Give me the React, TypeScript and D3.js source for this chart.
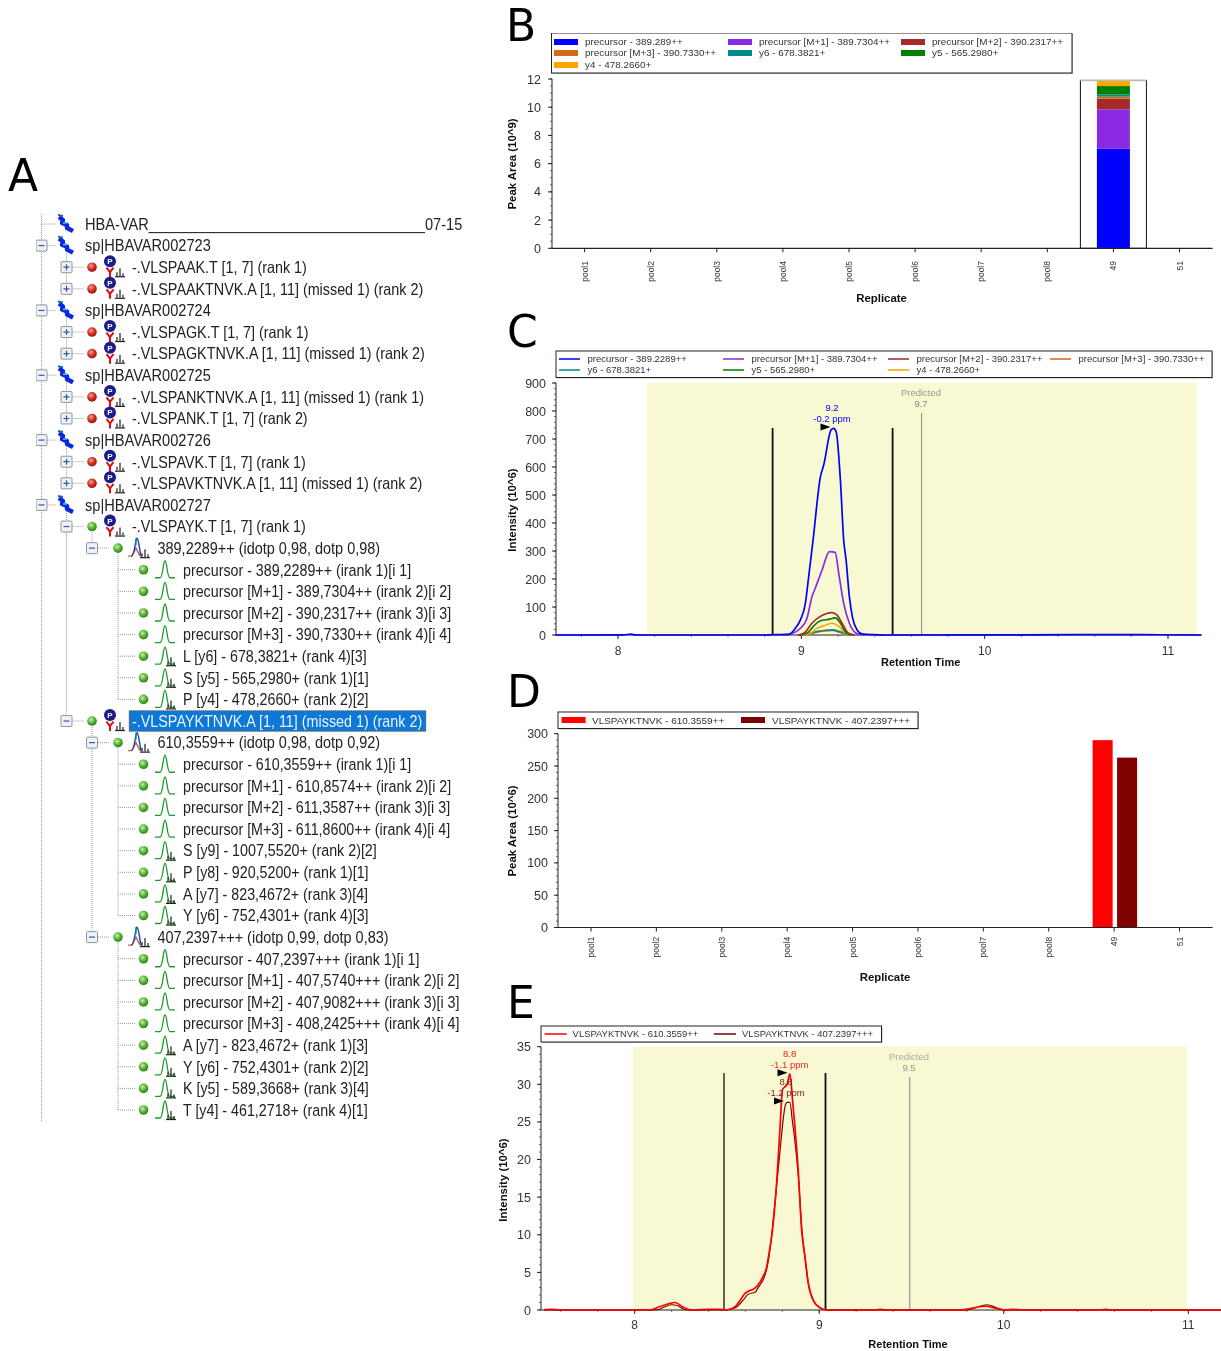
import React from "react";
import * as d3 from "d3";

// ---------- Panel A: tree ----------
const treeRows: [number, string, string][] = [
  [0, "", "HBA-VAR__________________________________07-15"],
  [0, "", "sp|HBAVAR002723"],
  [1, "r", "-.VLSPAAK.T [1, 7] (rank 1)"],
  [1, "r", "-.VLSPAAKTNVK.A [1, 11] (missed 1) (rank 2)"],
  [0, "", "sp|HBAVAR002724"],
  [1, "r", "-.VLSPAGK.T [1, 7] (rank 1)"],
  [1, "r", "-.VLSPAGKTNVK.A [1, 11] (missed 1) (rank 2)"],
  [0, "", "sp|HBAVAR002725"],
  [1, "r", "-.VLSPANKTNVK.A [1, 11] (missed 1) (rank 1)"],
  [1, "r", "-.VLSPANK.T [1, 7] (rank 2)"],
  [0, "", "sp|HBAVAR002726"],
  [1, "r", "-.VLSPAVK.T [1, 7] (rank 1)"],
  [1, "r", "-.VLSPAVKTNVK.A [1, 11] (missed 1) (rank 2)"],
  [0, "", "sp|HBAVAR002727"],
  [1, "g", "-.VLSPAYK.T [1, 7] (rank 1)"],
  [2, "g", "389,2289++ (idotp 0,98, dotp 0,98)"],
  [3, "p", "precursor - 389,2289++ (irank 1)[i 1]"],
  [3, "p", "precursor [M+1] - 389,7304++ (irank 2)[i 2]"],
  [3, "p", "precursor [M+2] - 390,2317++ (irank 3)[i 3]"],
  [3, "p", "precursor [M+3] - 390,7330++ (irank 4)[i 4]"],
  [3, "f", "L [y6] - 678,3821+ (rank 4)[3]"],
  [3, "f", "S [y5] - 565,2980+ (rank 1)[1]"],
  [3, "f", "P [y4] - 478,2660+ (rank 2)[2]"],
  [1, "s", "-.VLSPAYKTNVK.A [1, 11] (missed 1) (rank 2)"],
  [2, "g", "610,3559++ (idotp 0,98, dotp 0,92)"],
  [3, "p", "precursor - 610,3559++ (irank 1)[i 1]"],
  [3, "p", "precursor [M+1] - 610,8574++ (irank 2)[i 2]"],
  [3, "p", "precursor [M+2] - 611,3587++ (irank 3)[i 3]"],
  [3, "p", "precursor [M+3] - 611,8600++ (irank 4)[i 4]"],
  [3, "f", "S [y9] - 1007,5520+ (rank 2)[2]"],
  [3, "f", "P [y8] - 920,5200+ (rank 1)[1]"],
  [3, "f", "A [y7] - 823,4672+ (rank 3)[4]"],
  [3, "f", "Y [y6] - 752,4301+ (rank 4)[3]"],
  [2, "g", "407,2397+++ (idotp 0,99, dotp 0,83)"],
  [3, "p", "precursor - 407,2397+++ (irank 1)[i 1]"],
  [3, "p", "precursor [M+1] - 407,5740+++ (irank 2)[i 2]"],
  [3, "p", "precursor [M+2] - 407,9082+++ (irank 3)[i 3]"],
  [3, "p", "precursor [M+3] - 408,2425+++ (irank 4)[i 4]"],
  [3, "f", "A [y7] - 823,4672+ (rank 1)[3]"],
  [3, "f", "Y [y6] - 752,4301+ (rank 2)[2]"],
  [3, "f", "K [y5] - 589,3668+ (rank 3)[4]"],
  [3, "f", "T [y4] - 461,2718+ (rank 4)[1]"],
];

// ---------- Panel B ----------
const replicatesB = ["pool1", "pool2", "pool3", "pool4", "pool5", "pool6", "pool7", "pool8", "49", "51"];
const selectedReplicate = "49";
const stackKeysB = ["p0", "p1", "p2", "p3", "y6", "y5", "y4"];
const stackLabelsB = [
  "precursor - 389.289++",
  "precursor [M+1] - 389.7304++",
  "precursor [M+2] - 390.2317++",
  "precursor [M+3] - 390.7330++",
  "y6 - 678.3821+",
  "y5 - 565.2980+",
  "y4 - 478.2660+",
];
const stackColors = ["#0000ff", "#8a2be2", "#a52a2a", "#d2691e", "#008b8b", "#008000", "#ffa500"];
const stackValues49 = [7.05, 2.8, 0.75, 0.15, 0.15, 0.6, 0.35];

// ---------- Panel C ----------
const labelsC = [
  "precursor - 389.2289++",
  "precursor [M+1] - 389.7304++",
  "precursor [M+2] - 390.2317++",
  "precursor [M+3] - 390.7330++",
  "y6 - 678.3821+",
  "y5 - 565.2980+",
  "y4 - 478.2660+",
];
const colorsC = ["#0000ff", "#8a2be2", "#a52a2a", "#d2691e", "#008b8b", "#008000", "#ffa500"];
const m3C: [number, number][] = [[8.99, 0], [9.04, 4], [9.09, 11], [9.13, 15], [9.17, 16], [9.21, 10], [9.25, 3], [9.29, 0]];
const y6C: [number, number][] = [[8.99, 0], [9.04, 5], [9.09, 13], [9.13, 17], [9.17, 18], [9.21, 12], [9.25, 4], [9.29, 0]];
const y5C: [number, number][] = [[8.99, 0], [9.03, 6], [9.067, 32], [9.104, 51], [9.149, 56], [9.185, 61], [9.213, 42], [9.244, 8], [9.27, 0]];
const y4C: [number, number][] = [[9.01, 0], [9.049, 6], [9.085, 24], [9.131, 35], [9.167, 42], [9.204, 32], [9.231, 12], [9.25, 2], [9.27, 0]];
const m2C: [number, number][] = [[8.98, 0], [9.013, 6], [9.058, 42], [9.095, 63], [9.131, 75], [9.167, 80], [9.195, 71], [9.222, 42], [9.258, 6], [9.29, 0]];
const m1C: [number, number][] = [[8.9, 0], [8.931, 2], [8.995, 24], [9.031, 60], [9.058, 137], [9.076, 167], [9.113, 232], [9.153, 298], [9.185, 295], [9.204, 220], [9.231, 113], [9.262, 42], [9.295, 8], [9.322, 1], [9.35, 0]];
const m0C: [number, number][] = [[7.66, 0], [8.03, 0.5], [8.07, 3], [8.1, 0], [8.8, 0], [8.85, 1], [8.931, 2], [8.967, 24], [8.995, 54], [9.022, 113], [9.04, 208], [9.064, 339], [9.104, 565], [9.122, 607], [9.162, 732], [9.176, 738], [9.19, 726], [9.213, 554], [9.231, 339], [9.244, 268], [9.262, 137], [9.28, 60], [9.304, 18], [9.331, 4], [9.395, 1], [9.45, 0], [10.2, 0.5], [10.5, 1], [10.85, 1], [11.18, 0]];
const seriesC = [m0C, m1C, m2C, m3C, y6C, y5C, y4C];

// ---------- Panel D ----------
const replicatesD = ["pool1", "pool2", "pool3", "pool4", "pool5", "pool6", "pool7", "pool8", "49", "51"];
const labelsD = ["VLSPAYKTNVK - 610.3559++", "VLSPAYKTNVK - 407.2397+++"];
const barValues49 = [290, 263];
const colorsD = ["#ff0000", "#800000"];

// ---------- Panel E ----------
const labelsE = ["VLSPAYKTNVK - 610.3559++", "VLSPAYKTNVK - 407.2397+++"];
const darkE: [number, number][] = [[7.51, 0], [8.12, 0], [8.16, 0.4], [8.2, 0.7], [8.23, 0.6], [8.28, 0], [8.479, 0], [8.515, 0.1], [8.552, 0.4], [8.588, 1.3], [8.615, 2.1], [8.652, 2.35], [8.67, 3.0], [8.697, 4.1], [8.715, 5.4], [8.733, 8.0], [8.759, 14], [8.787, 21], [8.801, 24.5], [8.816, 27.2], [8.826, 27.6], [8.841, 27.6], [8.855, 25], [8.868, 22.5], [8.886, 18], [8.905, 11], [8.923, 7], [8.941, 3.5], [8.968, 1.3], [9.005, 0.3], [9.04, 0], [9.8, 0], [9.87, 0.5], [9.91, 0.7], [9.96, 0.3], [10.01, 0], [11.2, 0]];
const redE: [number, number][] = [[7.51, 0.05], [7.55, 0.1], [7.6, 0], [8.08, 0], [8.13, 0.4], [8.18, 0.8], [8.22, 1.0], [8.26, 0.4], [8.31, 0], [8.4, 0.1], [8.46, 0.1], [8.499, 0], [8.544, 0.44], [8.57, 1.24], [8.598, 2.2], [8.616, 2.5], [8.652, 2.9], [8.688, 4.1], [8.715, 5.7], [8.733, 8.3], [8.746, 10.5], [8.765, 15.5], [8.787, 24], [8.801, 29.3], [8.816, 29.7], [8.826, 30], [8.841, 31.4], [8.855, 28], [8.868, 24.4], [8.886, 18.6], [8.905, 10.5], [8.923, 7], [8.941, 3.5], [8.968, 1.24], [9.005, 0.27], [9.04, 0], [9.3, 0], [9.33, 0.1], [9.36, 0], [9.76, 0], [9.82, 0.2], [9.9, 0.5], [9.96, 0.2], [10.01, 0], [10.05, 0.1], [10.1, 0], [10.53, 0], [10.55, 0.1], [10.58, 0], [11.2, 0]];

const FONT = "'Liberation Sans', Arial, sans-serif";
const TICK = "#333";

function Txt(p: any) {
  return <text fontFamily={FONT} {...p} />;
}

function YAxis({ scale, ticks, minorEvery, x, labelX, title, titleX, titleY }: any) {
  const [d0, d1] = scale.domain();
  const minors = d3.range(d0, d1 + minorEvery / 2, minorEvery);
  return (
    <g>
      <line x1={x} x2={x} y1={scale(d0)} y2={scale(d1)} stroke="#222" strokeWidth={1} />
      {minors.map((m: number) => (
        <line key={m} x1={x - 2} x2={x} y1={scale(m)} y2={scale(m)} stroke="#444" strokeWidth={0.8} />
      ))}
      {ticks.map((t: number) => (
        <g key={t}>
          <line x1={x - 4} x2={x} y1={scale(t)} y2={scale(t)} stroke="#222" />
          <Txt x={labelX} y={scale(t) + 4.5} textAnchor="end" fontSize={12.5} fill={TICK}>{t}</Txt>
        </g>
      ))}
      <Txt transform={`translate(${titleX},${titleY}) rotate(-90)`} textAnchor="middle" fontSize={11.4} fontWeight="bold" fill="#111">{title}</Txt>
    </g>
  );
}

function CatAxis({ scale, y, x0, x1, top, title, titleX, titleY }: any) {
  return (
    <g>
      <line x1={x0} x2={x1} y1={y} y2={y} stroke="#222" strokeWidth={1.2} />
      {scale.domain().map((c: string) => (
        <g key={c}>
          <line x1={scale(c)} x2={scale(c)} y1={y} y2={y + 4} stroke="#222" />
          <Txt transform={`translate(${scale(c) + 3},${top}) rotate(-90)`} textAnchor="end" fontSize={8.5} fill={TICK}>{c}</Txt>
        </g>
      ))}
      <Txt x={titleX} y={titleY} textAnchor="middle" fontSize={11.4} fontWeight="bold" fill="#111">{title}</Txt>
    </g>
  );
}

function RtAxis({ scale, y, x0, x1, ticks, labelY, titleX, titleY, showMinor }: any) {
  const [d0, d1] = scale.domain();
  const minors = d3.range(Math.ceil(d0 * 5) / 5, d1, 0.2);
  return (
    <g>
      <line x1={x0} x2={x1} y1={y} y2={y} stroke="#222" strokeWidth={1.2} />
      {showMinor && minors.map((m: number) => (
        <line key={m} x1={scale(m)} x2={scale(m)} y1={y} y2={y + 2} stroke="#555" strokeWidth={0.8} />
      ))}
      {ticks.map((t: number) => (
        <g key={t}>
          <line x1={scale(t)} x2={scale(t)} y1={y} y2={y + 4} stroke="#222" />
          <Txt x={scale(t)} y={labelY} textAnchor="middle" fontSize={12} fill={TICK}>{t}</Txt>
        </g>
      ))}
      <Txt x={titleX} y={titleY} textAnchor="middle" fontSize={11} fontWeight="bold" fill="#111">Retention Time</Txt>
    </g>
  );
}

function LegendBox({ x, y, w, h }: any) {
  return (
    <g>
      <rect x={x + 1} y={y + 1} width={w} height={h} fill="#bbb" />
      <rect x={x} y={y} width={w} height={h} fill="#fff" stroke="#222" strokeWidth={1} />
    </g>
  );
}

function Tri({ x, y }: any) {
  return <path d={`M${x - 5},${y - 3.5}L${x + 5},${y}L${x - 5},${y + 3.5}Z`} fill="#000" />;
}

function ProteinIcon({ x, y }: any) {
  return (
    <g>
      <path d={`M${x - 7},${y - 7}L${x - 3},${y - 4}L${x - 4},${y - 1}L${x + 1},${y + 1}L${x + 1},${y + 4}L${x + 7},${y + 7}`} fill="none" stroke="#0a28e0" strokeWidth={4.4} strokeLinejoin="round" />
      <path d={`M${x - 8},${y - 9}L${x - 3},${y - 8}`} stroke="#26a" strokeWidth={2} />
      <path d={`M${x - 3},${y - 1}L${x + 1},${y - 1}`} stroke="#3cf" strokeWidth={1.5} />
    </g>
  );
}

function Dot({ x, y, kind }: any) {
  return <circle cx={x} cy={y} r={4.8} fill={`url(#${kind === "r" ? "redDot" : "greenDot"})`} />;
}

function Bars({ x, y }: any) {
  return (
    <g stroke="#222" strokeWidth={1.2}>
      <path d={`M${x},${y}V${y - 4}M${x + 3},${y}V${y - 8}M${x + 6},${y}V${y - 3}`} />
      <path d={`M${x - 2},${y + 0.5}H${x + 8}`} />
    </g>
  );
}

function PepIcon({ x, y }: any) {
  return (
    <g>
      <circle cx={x} cy={y - 6} r={6} fill="#1a1a8c" />
      <Txt x={x} y={y - 3} textAnchor="middle" fontSize={8} fontWeight="bold" fill="#fff">P</Txt>
      <path d={`M${x - 3.5},${y + 0.5}L${x},${y + 5}L${x + 3.5},${y + 0.5}M${x},${y + 5}V${y + 10}`} fill="none" stroke="#e01010" strokeWidth={2} />
      <Bars x={x + 7} y={y + 9} />
    </g>
  );
}

function PeakIcon({ x, y, bars, multi }: any) {
  const peak = `M${x - 10},${y + 8}H${x - 5}C${x - 2},${y + 8} ${x - 2},${y - 9} ${x},${y - 9}C${x + 2},${y - 9} ${x + 2},${y + 8} ${x + 5},${y + 8}H${x + 10}`;
  if (multi) {
    return (
      <g>
        <path d={`M${x - 10},${y + 8}H${x - 6}L${x - 2},${y}L${x + 2},${y + 8}`} fill="none" stroke="#d2691e" strokeWidth={1.4} />
        <path d={`M${x - 7},${y + 8}C${x - 3},${y + 8} ${x - 3},${y - 9} ${x - 1},${y - 10}C${x + 1},${y - 9} ${x + 2},${y + 6} ${x + 3},${y + 8}`} fill="none" stroke="#1040e0" strokeWidth={1.4} />
        <path d={`M${x - 2},${y - 10}V${y - 3}`} stroke="#18a018" strokeWidth={1.3} />
        <Bars x={x + 4} y={y + 9} />
      </g>
    );
  }
  return (
    <g>
      <path d={peak} fill="none" stroke="#1c9a2c" strokeWidth={1.3} />
      {bars && <Bars x={x + 3} y={y + 9} />}
    </g>
  );
}

function Expander({ x, y, open }: any) {
  return (
    <g>
      <rect x={x - 5.5} y={y - 5.5} width={11} height={11} rx={1} fill="#eef1f6" stroke="#8e959e" strokeWidth={1} />
      <path d={open ? `M${x - 3},${y}H${x + 3}` : `M${x - 3},${y}H${x + 3}M${x},${y - 3}V${y + 3}`} stroke="#3b55a8" strokeWidth={1.2} />
    </g>
  );
}

function Tree() {
  const rowY = d3.scaleLinear().domain([0, treeRows.length - 1]).range([224, 1110]);
  const trunkX = [41.5, 66.5, 92, 118];
  const textX = [85, 132, 157.5, 183];
  const squeeze = [0.885, 0.87, 0.877, 0.865];
  const guides: React.ReactNode[] = [];
  treeRows.forEach((r, i) => {
    const lvl = r[0];
    let last = -1;
    for (let j = i + 1; j < treeRows.length && treeRows[j][0] > lvl; j++) {
      if (treeRows[j][0] === lvl + 1) last = j;
    }
    if (last > 0 && lvl >= 0 && !(lvl === 0 && i === 0)) {
      guides.push(
        <line key={"v" + i} x1={trunkX[lvl + 1]} x2={trunkX[lvl + 1]} y1={rowY(i) + 6} y2={rowY(last)} stroke="#999" strokeDasharray="1 1" />,
      );
    }
  });
  return (
    <g>
      <line x1={41.5} x2={41.5} y1={214} y2={1122} stroke="#999" strokeDasharray="1 1" />
      {guides}
      {treeRows.map((r, i) => {
        const [lvl, kind, label] = r;
        const y = rowY(i);
        const selected = kind === "s";
        const tx = textX[lvl];
        return (
          <g key={i}>
            <line x1={trunkX[lvl]} x2={lvl === 0 ? 56 : lvl === 3 ? 136 : trunkX[lvl] + 18} y1={y} y2={y} stroke="#999" strokeDasharray="1 1" />
            {lvl === 0 && i > 0 && <Expander x={41.5} y={y} open />}
            {lvl === 1 && <Expander x={66.5} y={y} open={kind !== "r"} />}
            {lvl === 2 && <Expander x={92} y={y} open />}
            {lvl === 0 && <ProteinIcon x={66} y={y} />}
            {lvl === 1 && <Dot x={92} y={y} kind={kind} />}
            {lvl === 1 && <PepIcon x={110} y={y} />}
            {lvl === 2 && <Dot x={118} y={y} kind="g" />}
            {lvl === 2 && <PeakIcon x={138} y={y} multi />}
            {lvl === 3 && <Dot x={143.5} y={y} kind="g" />}
            {lvl === 3 && <PeakIcon x={165} y={y} bars={kind === "f"} />}
            {selected && <rect x={129} y={y - 10.5} width={297} height={21} fill="#0a78d7" stroke="#c8761e" strokeDasharray="1 1" />}
            <Txt transform={`translate(${tx},${y + 5.8}) scale(${squeeze[lvl]},1)`} fontSize={16.5} fill={selected ? "#eaf4ff" : "#222"}>{label}</Txt>
          </g>
        );
      })}
    </g>
  );
}

function PanelB() {
  const x = d3.scalePoint().domain(replicatesB).range([584.6, 1179.5]);
  const y = d3.scaleLinear().domain([0, 12]).range([248.3, 79]);
  const row: any = { replicate: selectedReplicate };
  stackKeysB.forEach((k, i) => (row[k] = stackValues49[i]));
  const stack = d3.stack().keys(stackKeysB)([row]);
  const cx = x(selectedReplicate)!;
  const cols = [554, 728, 901];
  const rows = [42, 53, 65];
  return (
    <g>
      <LegendBox x={551.5} y={33} w={520.5} h={40} />
      {stackLabelsB.map((l, i) => {
        const cc = cols[i % 3];
        const rr = rows[Math.floor(i / 3)];
        return (
          <g key={l}>
            <rect x={cc} y={rr - 3} width={24} height={6} fill={stackColors[i]} />
            <Txt x={cc + 31} y={rr + 3} fontSize={9.9} fill="#333">{l}</Txt>
          </g>
        );
      })}
      <rect x={cx - 33} y={y(11.9)} width={66} height={y(0) - y(11.9)} fill="#fff" stroke="#111" strokeWidth={1} />
      <line x1={cx - 33} x2={cx + 33} y1={y(11.9)} y2={y(11.9)} stroke="#bbb" strokeWidth={1.5} />
      {stack.map((s: any, i: number) => (
        <rect key={i} x={cx - 16.5} width={33} y={y(s[0][1])} height={y(s[0][0]) - y(s[0][1])} fill={stackColors[i]} />
      ))}
      <YAxis scale={y} ticks={d3.range(0, 13, 2)} minorEvery={0.5} x={552} labelX={541} title="Peak Area (10^9)" titleX={516} titleY={164} />
      <CatAxis scale={x} y={248.3} x0={552} x1={1212.6} top={261} title="Replicate" titleX={881.6} titleY={302} />
    </g>
  );
}

function PanelC() {
  const x = d3.scaleLinear().domain([8, 11]).range([618, 1168]);
  x.domain([x.invert(556), x.invert(1202)]).range([556, 1202]);
  const y = d3.scaleLinear().domain([0, 900]).range([635, 383]);
  const line = d3.line<[number, number]>().x((d) => x(d[0])).y((d) => y(d[1])).curve(d3.curveMonotoneX);
  const cols = [559, 723, 888, 1050];
  const colPos = [[0, 0], [1, 0], [2, 0], [3, 0], [0, 1], [1, 1], [2, 1]];
  const rows = [359, 370];
  const order = [3, 4, 6, 5, 2, 1, 0];
  return (
    <g>
      <LegendBox x={556} y={351} w={656} h={26.5} />
      {labelsC.map((l, i) => {
        const [c, r] = colPos[i];
        return (
          <g key={l}>
            <line x1={cols[c]} x2={cols[c] + 21} y1={rows[r]} y2={rows[r]} stroke={colorsC[i]} strokeWidth={1.8} opacity={0.85} />
            <Txt x={cols[c] + 28.5} y={rows[r] + 3} fontSize={9.5} fill="#333">{l}</Txt>
          </g>
        );
      })}
      <rect x={647} y={383} width={549.5} height={252} fill="#f8f8d2" />
      <line x1={772.6} x2={772.6} y1={428} y2={635} stroke="#111" strokeWidth={1.8} />
      <line x1={892.6} x2={892.6} y1={428} y2={635} stroke="#111" strokeWidth={1.8} />
      <line x1={921.6} x2={921.6} y1={413} y2={635} stroke="#888" strokeWidth={1} />
      <YAxis scale={y} ticks={d3.range(0, 901, 100)} minorEvery={20} x={556} labelX={546} title="Intensity (10^6)" titleX={516} titleY={510} />
      <RtAxis scale={x} y={635} x0={556} x1={1202} ticks={[8, 9, 10, 11]} labelY={655} titleX={920.7} titleY={665.5} showMinor />
      {order.map((i) => (
        <path key={i} d={line(seriesC[i])!} fill="none" stroke={colorsC[i]} strokeWidth={1.7} />
      ))}
      <Txt x={921} y={396} textAnchor="middle" fontSize={9.5} fill="#999">Predicted</Txt>
      <Txt x={921} y={407} textAnchor="middle" fontSize={9.5} fill="#888">9.7</Txt>
      <Txt x={832} y={411} textAnchor="middle" fontSize={9.5} fill="#0000ff">9.2</Txt>
      <Txt x={832} y={422} textAnchor="middle" fontSize={9.5} fill="#0000ff">-0.2 ppm</Txt>
      <Tri x={825.5} y={427} />
    </g>
  );
}

function PanelD() {
  const x = d3.scalePoint().domain(replicatesD).range([591, 1179.5]);
  const y = d3.scaleLinear().domain([0, 300]).range([927.5, 733.7]);
  const inner = d3.scaleBand().domain(labelsD).range([-21.5, 23]).paddingInner(0.18);
  const cx = x("49")!;
  return (
    <g>
      <LegendBox x={558} y={712} w={360} h={16.5} />
      <rect x={561.6} y={717} width={24} height={6} fill={colorsD[0]} />
      <Txt x={592} y={723.5} fontSize={9.95} fill="#333">{labelsD[0]}</Txt>
      <rect x={741} y={717} width={24} height={6} fill={colorsD[1]} />
      <Txt x={772} y={723.5} fontSize={9.95} fill="#333">{labelsD[1]}</Txt>
      {labelsD.map((l, i) => (
        <rect key={l} x={cx + inner(l)!} width={inner.bandwidth()} y={y(barValues49[i])} height={y(0) - y(barValues49[i])} fill={colorsD[i]} />
      ))}
      <YAxis scale={y} ticks={d3.range(0, 301, 50)} minorEvery={10} x={558} labelX={548} title="Peak Area (10^6)" titleX={516} titleY={831} />
      <CatAxis scale={x} y={927.5} x0={558} x1={1212.6} top={936.7} title="Replicate" titleX={885} titleY={981} />
    </g>
  );
}

function PanelE() {
  const x = d3.scaleLinear().domain([8, 11]).range([634.7, 1188.3]);
  x.domain([x.invert(541), x.invert(1221)]).range([541, 1221]);
  const y = d3.scaleLinear().domain([0, 35]).range([1310, 1046.7]);
  const line = d3.line<[number, number]>().x((d) => x(d[0])).y((d) => y(d[1])).curve(d3.curveMonotoneX);
  return (
    <g>
      <LegendBox x={541} y={1026} w={340.5} h={16} />
      <line x1={544.6} x2={566.7} y1={1034} y2={1034} stroke="#ff0000" strokeWidth={1.8} opacity={0.85} />
      <Txt x={572.6} y={1037} fontSize={9.45} fill="#333">{labelsE[0]}</Txt>
      <line x1={713.8} x2={736} y1={1034} y2={1034} stroke="#800000" strokeWidth={1.8} opacity={0.85} />
      <Txt x={742} y={1037} fontSize={9.45} fill="#333">{labelsE[1]}</Txt>
      <rect x={633} y={1046.7} width={554} height={263.3} fill="#f8f8d2" />
      <line x1={724} x2={724} y1={1073} y2={1310} stroke="#111" strokeWidth={1.3} />
      <line x1={825.5} x2={825.5} y1={1073} y2={1310} stroke="#111" strokeWidth={1.8} />
      <line x1={909.7} x2={909.7} y1={1077} y2={1310} stroke="#aaa" strokeWidth={1.6} />
      <YAxis scale={y} ticks={d3.range(0, 36, 5)} minorEvery={1} x={541} labelX={531} title="Intensity (10^6)" titleX={507} titleY={1180} />
      <RtAxis scale={x} y={1310} x0={541} x1={1221} ticks={[8, 9, 10, 11]} labelY={1329} titleX={908} titleY={1348} showMinor />
      <path d={line(darkE)!} fill="none" stroke="#800000" strokeWidth={1.2} />
      <path d={line(redE)!} fill="none" stroke="#ff0000" strokeWidth={1.7} />
      <Txt x={909} y={1060} textAnchor="middle" fontSize={9.5} fill="#aaa">Predicted</Txt>
      <Txt x={909} y={1071} textAnchor="middle" fontSize={9.5} fill="#999">9.5</Txt>
      <Txt x={789.7} y={1057} textAnchor="middle" fontSize={9.5} fill="#ff2020">8.8</Txt>
      <Txt x={789.7} y={1068} textAnchor="middle" fontSize={9.5} fill="#ff2020">-1.1 ppm</Txt>
      <Tri x={782.5} y={1072.7} />
      <Txt x={786} y={1085} textAnchor="middle" fontSize={9.5} fill="#802020">8.8</Txt>
      <Txt x={786} y={1096} textAnchor="middle" fontSize={9.5} fill="#802020">-1.2 ppm</Txt>
      <Tri x={779} y={1101} />
    </g>
  );
}

const panelLetters: [string, number, number][] = [
  ["A", 8, 191],
  ["B", 506, 41],
  ["C", 507, 347],
  ["D", 507, 707],
  ["E", 507, 1018],
];

export default function App() {
  return (
    <div style={{ position: "absolute", left: 0, top: 0 }}>
      <svg width={1221} height={1351} viewBox="0 0 1221 1351" style={{ display: "block", background: "#fff" }}>
        <defs>
          <radialGradient id="greenDot" cx="40%" cy="35%" r="70%">
            <stop offset="0%" stopColor="#c8f0a0" />
            <stop offset="55%" stopColor="#4fb030" />
            <stop offset="100%" stopColor="#2d7a1e" />
          </radialGradient>
          <radialGradient id="redDot" cx="40%" cy="35%" r="70%">
            <stop offset="0%" stopColor="#f6a090" />
            <stop offset="55%" stopColor="#d02a20" />
            <stop offset="100%" stopColor="#8a1a14" />
          </radialGradient>
          <filter id="soft" x="0" y="0" width="100%" height="100%">
            <feGaussianBlur stdDeviation="0.45" />
          </filter>
        </defs>
        <g filter="url(#soft)">
          <Tree />
          <PanelB />
          <PanelC />
          <PanelD />
          <PanelE />
        </g>
        {panelLetters.map(([l, x, y]) => (
          <text key={l} x={x} y={y} fontFamily="'DejaVu Sans', sans-serif" fontSize={44} fill="#000">{l}</text>
        ))}
      </svg>
    </div>
  );
}
